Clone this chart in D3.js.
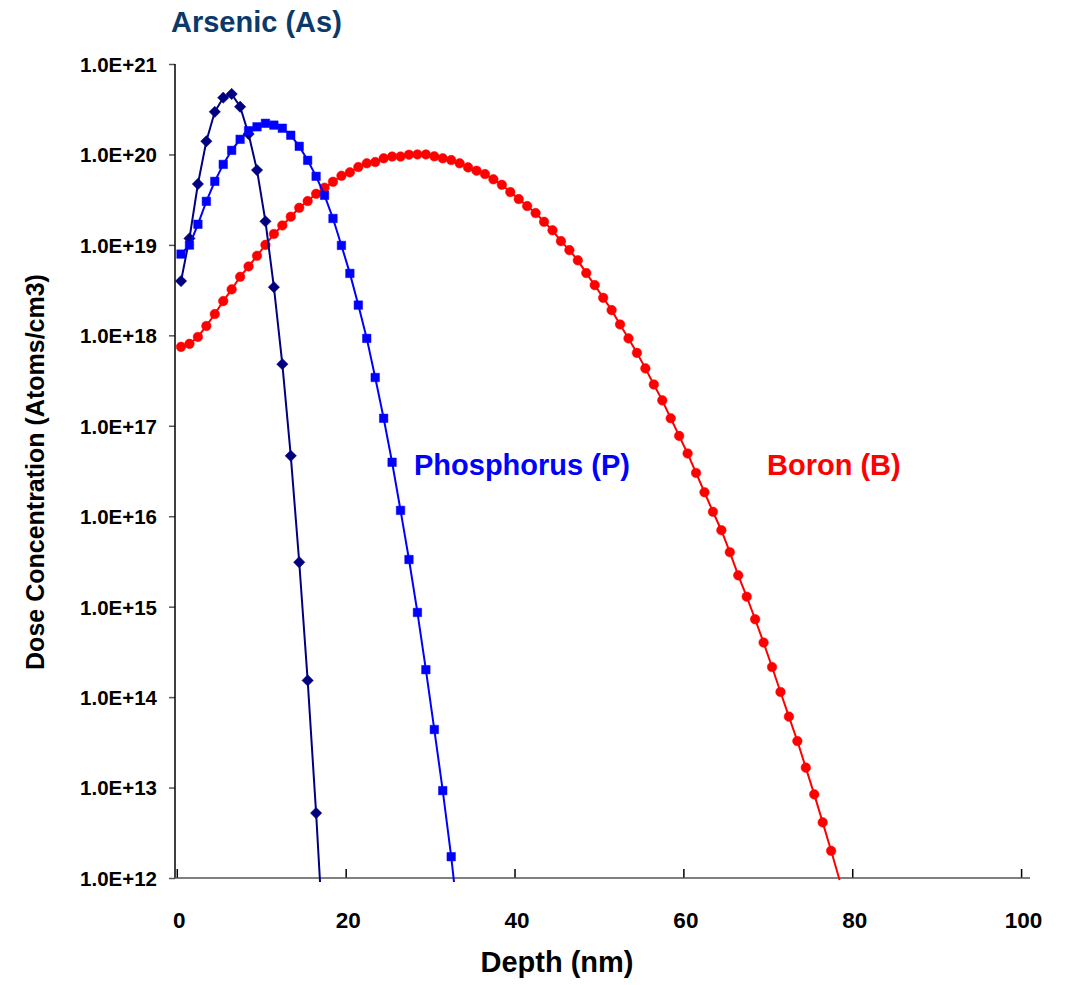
<!DOCTYPE html>
<html>
<head>
<meta charset="utf-8">
<script src="https://cdn.jsdelivr.net/npm/d3@7"></script>
<style>
  html, body { margin: 0; padding: 0; background: #fff; }
  svg text { font-family: "Liberation Sans", Arial, Helvetica, sans-serif; font-weight: bold; }
</style>
</head>
<body>
<svg id="chart" width="1068" height="985"></svg>
<script>
// ---- data (depth in nm, concentration in atoms/cm3) ----
const arsenicDepth = [0.5,1.5,2.5,3.5,4.5,5.5,6.5,7.5,8.5,9.5,10.5,11.5,12.5,13.5,14.5,15.5,16.5,17.5];
const arsenicConc = [3.98e18,1.18e19,4.71e19,1.40e20,2.96e20,4.24e20,4.66e20,3.37e20,1.68e20,6.71e19,
  1.82e19,3.41e18,4.80e17,4.65e16,3.10e15,1.53e14,5.22e12,1.2e11];

const phosphorusDepth = [0.5,1.5,2.5,3.5,4.5,5.5,6.5,7.5,8.5,9.5,10.5,11.5,12.5,13.5,14.5,15.5,16.5,17.5,
  18.5,19.5,20.5,21.5,22.5,23.5,24.5,25.5,26.5,27.5,28.5,29.5,30.5,31.5,32.5,33.5];
const phosphorusConc = [7.91e18,9.95e18,1.69e19,3.03e19,5.04e19,7.76e19,1.11e20,1.47e20,1.83e20,2.02e20,
  2.21e20,2.11e20,1.95e20,1.63e20,1.23e20,8.61e19,5.73e19,3.53e19,1.96e19,9.86e18,
  4.84e18,2.16e18,9.25e17,3.42e17,1.21e17,3.95e16,1.16e16,3.32e15,8.63e14,2.01e14,
  4.38e13,9.25e12,1.72e12,2.5e11];

const boronDepth = [0.5,1.5,2.5,3.5,4.5,5.5,6.5,7.5,8.5,9.5,10.5,11.5,12.5,13.5,14.5,15.5,16.5,17.5,18.5,19.5,
  20.5,21.5,22.5,23.5,24.5,25.5,26.5,27.5,28.5,29.5,30.5,31.5,32.5,33.5,34.5,35.5,36.5,37.5,38.5,39.5,
  40.5,41.5,42.5,43.5,44.5,45.5,46.5,47.5,48.5,49.5,50.5,51.5,52.5,53.5,54.5,55.5,56.5,57.5,58.5,59.5,
  60.5,61.5,62.5,63.5,64.5,65.5,66.5,67.5,68.5,69.5,70.5,71.5,72.5,73.5,74.5,75.5,76.5,77.5,78.5];
const boronConc = [7.46e17,8.05e17,9.6e17,1.27e18,1.72e18,2.39e18,3.22e18,4.44e18,5.78e18,7.57e18,
  1.0e19,1.32e19,1.64e19,2.05e19,2.57e19,3.05e19,3.67e19,4.29e19,4.99e19,5.81e19,
  6.34e19,7.26e19,7.98e19,8.24e19,9.06e19,9.48e19,9.48e19,9.93e19,1.0e20,1.0e20,
  9.53e19,9.06e19,8.67e19,7.98e19,7.19e19,6.61e19,6.07e19,5.31e19,4.62e19,3.84e19,
  3.21e19,2.69e19,2.25e19,1.80e19,1.45e19,1.10e19,8.75e18,6.75e18,4.88e18,3.59e18,
  2.60e18,1.90e18,1.32e18,9.25e17,6.40e17,4.31e17,2.86e17,1.91e17,1.21e17,7.73e16,
  4.94e16,3.01e16,1.84e16,1.12e16,7.0e15,4.0e15,2.22e15,1.29e15,7.26e14,4.01e14,
  2.15e14,1.14e14,6.08e13,3.27e13,1.66e13,8.41e12,4.12e12,2.0e12,9.5e11];

const xTicks = [0,20,40,60,80,100];
const yTicks = [1e12,1e13,1e14,1e15,1e16,1e17,1e18,1e19,1e20,1e21];
const yTickLabels = ["1.0E+12","1.0E+13","1.0E+14","1.0E+15","1.0E+16","1.0E+17","1.0E+18","1.0E+19","1.0E+20","1.0E+21"];

const seriesNames = ["Arsenic (As)","Phosphorus (P)","Boron (B)"];
const xTitle = "Depth (nm)";
const yTitle = "Dose Concentration (Atoms/cm3)";

// ---- layout ----
const svg = d3.select("#chart");
const plotLeft = 175, plotTop = 64, plotBottom = 878, plotRight = 1030;
const x = d3.scaleLinear().domain([0,100]).range([176.8,1021.1]);
const y = d3.scaleLog().domain([1e12,1e21]).range([plotBottom, plotTop]);

svg.append("defs").append("clipPath").attr("id","clip")
  .append("rect").attr("x", plotLeft).attr("y", plotTop - 10)
  .attr("width", plotRight - plotLeft).attr("height", plotBottom - plotTop + 14);

// y axis
const yAxis = svg.append("g").attr("transform", `translate(${plotLeft},0)`)
  .call(d3.axisLeft(y).tickValues(yTicks).tickSize(6).tickPadding(12)
    .tickFormat((d,i) => yTickLabels[i]));
yAxis.select(".domain").remove();
yAxis.selectAll(".tick line").attr("stroke","#555").attr("stroke-width",1.5);
yAxis.selectAll(".tick text").attr("font-size", 20.5).attr("fill","#000")
  .attr("font-family","'Liberation Sans', Arial, sans-serif").attr("font-weight","bold")
  .attr("dy","0.36em");
svg.append("line").attr("x1",plotLeft).attr("x2",plotLeft).attr("y1",plotTop).attr("y2",plotBottom)
  .attr("stroke","#000").attr("stroke-width",1.5);

// x axis
const xAxis = svg.append("g").attr("transform", `translate(0,${plotBottom})`)
  .call(d3.axisBottom(x).tickValues(xTicks).tickSizeInner(-9).tickSizeOuter(0).tickPadding(0));
xAxis.select(".domain").remove();
xAxis.selectAll(".tick line").attr("stroke","#000").attr("stroke-width",1.5);
xAxis.selectAll(".tick text").attr("font-size", 22.5).attr("fill","#000")
  .attr("font-family","'Liberation Sans', Arial, sans-serif").attr("font-weight","bold")
  .attr("y", 50).attr("dy", 0).attr("dx", 2);
svg.append("line").attr("x1",plotLeft).attr("x2",plotRight).attr("y1",plotBottom).attr("y2",plotBottom)
  .attr("stroke","#555").attr("stroke-width",1.5);

// series
const line = d3.line().x(d => x(d[0])).y(d => y(d[1]));
const g = svg.append("g").attr("clip-path","url(#clip)");

function series(depths, concs, color, shape, size, rot) {
  const pts = depths.map((d,i) => [d, concs[i]]);
  g.append("path").datum(pts).attr("d", line).attr("fill","none")
    .attr("stroke", color).attr("stroke-width", 2);
  g.selectAll(null).data(pts.filter(p => p[1] >= 1e12)).enter().append("path")
    .attr("transform", p => `translate(${x(p[0])},${y(p[1])}) rotate(${rot})`)
    .attr("d", d3.symbol().type(shape).size(size))
    .attr("fill", color).attr("stroke", color).attr("stroke-width", 0.5);
}
series(boronDepth, boronConc, "#ff0000", d3.symbolCircle, 72, 0);
series(arsenicDepth, arsenicConc, "#000080", d3.symbolSquare, 64, 45);
series(phosphorusDepth, phosphorusConc, "#0000ff", d3.symbolSquare, 72, 0);

// series labels
svg.append("text").attr("x",171).attr("y",32).attr("font-size",29).attr("fill","#0b3a6a").text(seriesNames[0]);
svg.append("text").attr("x",414).attr("y",475).attr("font-size",29).attr("fill","#0000ff").text(seriesNames[1]);
svg.append("text").attr("x",767).attr("y",475).attr("font-size",29).attr("fill","#ff0000").text(seriesNames[2]);

// axis titles
svg.append("text").attr("x",557).attr("y",972).attr("text-anchor","middle").attr("font-size",29)
  .attr("fill","#000").text(xTitle);
svg.append("text").attr("transform","translate(44,472) rotate(-90)").attr("text-anchor","middle")
  .attr("font-size",25).attr("fill","#000").text(yTitle);
</script>
</body>
</html>
